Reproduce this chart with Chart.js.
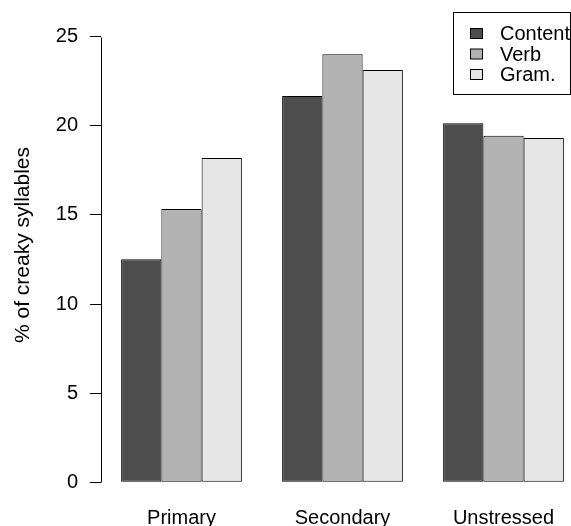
<!DOCTYPE html>
<html>
<head>
<meta charset="utf-8">
<script src="https://cdn.jsdelivr.net/npm/chart.js@4.4.1/dist/chart.umd.min.js"></script>
<style>
  html, body { margin: 0; padding: 0; background: #fff; overflow: hidden; }
  canvas { display: block; }
</style>
</head>
<body>
<canvas id="creaky-chart" width="600" height="526"></canvas>
<script>
// Data
const categories = ['Primary', 'Secondary', 'Unstressed'];
const seriesNames = ['Content', 'Verb', 'Gram.'];
const contentValues = [12.51, 21.68, 20.14];
const verbValues = [15.33, 24.02, 19.45];
const gramValues = [18.2, 23.14, 19.32];
const yTickValues = [0, 5, 10, 15, 20, 25];
const yTitle = '% of creaky syllables';

const fills = ['#4d4d4d', '#b3b3b3', '#e6e6e6'];
const FONT = "'Liberation Sans', Arial, Helvetica, sans-serif";
const FONT_SIZE = 20;

// R-style extras: axis line only over the tick range, rotated y title, boxed legend
const rStylePlugin = {
  id: 'rStyle',
  afterDraw(chart) {
    const { ctx, chartArea, scales } = chart;
    const y = scales.y;
    const x0 = Math.floor(chartArea.left) + 0.5;
    ctx.save();
    ctx.strokeStyle = '#000';
    ctx.lineWidth = 1;
    ctx.beginPath();
    ctx.moveTo(x0, Math.round(y.getPixelForValue(yTickValues[0])) + 0.5);
    ctx.lineTo(x0, Math.round(y.getPixelForValue(yTickValues[yTickValues.length - 1])) + 0.5);
    ctx.stroke();

    // y axis title
    ctx.fillStyle = '#000';
    ctx.font = '21px ' + FONT;
    ctx.textAlign = 'center';
    ctx.textBaseline = 'middle';
    ctx.translate(23, 245);
    ctx.rotate(-Math.PI / 2);
    ctx.fillText(yTitle, 0, 0);
    ctx.restore();

    // legend
    ctx.save();
    const boxLeft = 453.5, boxRight = 570.5, boxTop = chartArea.top + 0.5, boxBottom = 94.5;
    ctx.strokeStyle = '#000';
    ctx.lineWidth = 1;
    ctx.strokeRect(boxLeft, boxTop, boxRight - boxLeft, boxBottom - boxTop);
    ctx.font = FONT_SIZE + 'px ' + FONT;
    ctx.textAlign = 'left';
    ctx.textBaseline = 'middle';
    chart.data.datasets.forEach((ds, i) => {
      const cy = 33.5 + i * 20.5;
      ctx.fillStyle = ds.backgroundColor;
      ctx.fillRect(470.5, cy - 5, 12, 10);
      ctx.strokeRect(470.5, cy - 5, 12, 10);
      ctx.fillStyle = '#000';
      ctx.fillText(ds.label, 500, cy + 1);
    });
    ctx.restore();
  }
};

const ctx = document.getElementById('creaky-chart').getContext('2d');
new Chart(ctx, {
  type: 'bar',
  data: {
    labels: categories,
    datasets: [contentValues, verbValues, gramValues].map((vals, i) => ({
      label: seriesNames[i],
      data: vals,
      backgroundColor: fills[i],
      borderColor: '#000',
      borderWidth: 1,
      borderSkipped: false,
      barPercentage: 1.0,
      categoryPercentage: 0.75
    }))
  },
  options: {
    responsive: false,
    animation: false,
    devicePixelRatio: 1,
    layout: { padding: { left: 0, right: 16, top: 12, bottom: 0 } },
    plugins: {
      legend: { display: false },
      tooltip: { enabled: false }
    },
    scales: {
      x: {
        grid: { display: false, drawTicks: false },
        border: { display: false },
        ticks: {
          color: '#000',
          padding: 6,
          maxRotation: 0,
          font: { family: FONT, size: FONT_SIZE }
        },
        afterFit(scale) {
          scale.height = 26;
          scale.paddingLeft = 0;
          scale.paddingRight = 0;
        }
      },
      y: {
        min: -1,
        max: 26.39,
        border: { display: false },
        grid: {
          drawOnChartArea: false,
          drawTicks: true,
          tickLength: 11,
          color: '#000',
          lineWidth: 1
        },
        ticks: {
          color: '#000',
          padding: 12,
          font: { family: FONT, size: FONT_SIZE }
        },
        afterBuildTicks(scale) {
          scale.ticks = yTickValues.map(v => ({ value: v }));
        },
        afterFit(scale) {
          scale.width = 101;
          scale.paddingTop = 0;
          scale.paddingBottom = 0;
        }
      }
    }
  },
  plugins: [rStylePlugin]
});
</script>
</body>
</html>
